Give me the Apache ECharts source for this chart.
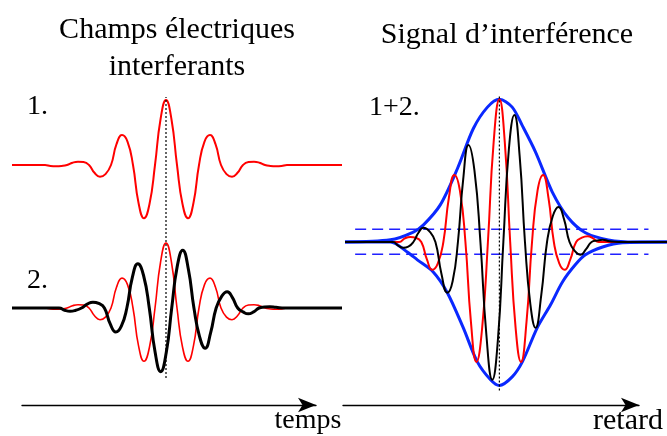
<!DOCTYPE html>
<html>
<head>
<meta charset="utf-8">
<script src="https://cdn.jsdelivr.net/npm/echarts@6/dist/echarts.min.js"></script>
<style>html,body{margin:0;padding:0;background:#fff}#c{width:667px;height:436px}</style>
</head>
<body>
<div id="c"></div>
<script>
// Field 1 (red), panels 1 and 2 : time (periods) / amplitude
const field1T = [-3.5, -2.75, -2.625, -2.5, -2.375, -2.25, -2.125, -2.0, -1.875, -1.75, -1.625, -1.5, -1.375, -1.25, -1.125, -1.0, -0.875, -0.75, -0.625, -0.5, -0.375, -0.25, -0.125, 0,
                 0.125, 0.25, 0.375, 0.5, 0.625, 0.75, 0.875, 1.0, 1.125, 1.25, 1.375, 1.5, 1.625, 1.75, 1.875, 2.0, 2.125, 2.25, 2.375, 2.5, 2.625, 2.75, 4.0];
const field1V = [0, 0, -0.015, -0.02, -0.015, 0, 0.035, 0.05, 0.045, 0, -0.12, -0.18, -0.14, 0, 0.32, 0.46, 0.36, 0, -0.58, -0.82, -0.60, 0, 0.70, 1.0,
                 0.70, 0, -0.60, -0.82, -0.58, 0, 0.36, 0.46, 0.32, 0, -0.14, -0.18, -0.12, 0, 0.045, 0.05, 0.035, 0, -0.015, -0.02, -0.015, 0, 0];
// Field 2 (black), panel 2
const field2T = [-3.5, -2.6, -2.43, -2.30, -2.18, -2.05, -1.92, -1.79, -1.66, -1.53, -1.40, -1.27, -1.14, -1.015, -0.89, -0.765, -0.64, -0.51, -0.38, -0.25, -0.12,
                 0.005, 0.13, 0.255, 0.38, 0.5075, 0.635, 0.7625, 0.89, 1.015, 1.14, 1.265, 1.39, 1.51, 1.63, 1.75, 1.87, 1.99, 2.115, 2.24, 2.36, 2.5, 2.7, 4.0];
const field2V = [0, 0, 0, -0.035, -0.05, -0.035, 0, 0.06, 0.09, 0.07, 0, -0.24, -0.37, -0.28, 0, 0.47, 0.68, 0.50, 0, -0.67, -0.98,
                 -0.69, 0, 0.64, 0.89, 0.60, 0, -0.44, -0.62, -0.38, 0, 0.18, 0.25, 0.16, 0, -0.06, -0.09, -0.06, 0, 0.015, 0.02, 0.01, 0, 0];
// Interference signal (panel 3), red trace
const sigRedT = [-3.5, -2.5, -2.27, -2.145, -2.02, -1.895, -1.77, -1.645, -1.52, -1.395, -1.27, -1.145, -1.02, -0.895, -0.77, -0.645, -0.52, -0.39, -0.26, -0.13, 0,
                 0.1225, 0.245, 0.3675, 0.49, 0.615, 0.74, 0.865, 0.99, 1.1125, 1.235, 1.3575, 1.48, 1.61, 1.74, 1.87, 2.0, 2.125, 2.25, 2.5, 3.8];
const sigRedV = [0, 0, 0, 0.05, 0.07, 0.06, 0, -0.24, -0.39, -0.30, 0, 0.62, 0.94, 0.72, 0, -1.12, -1.68, -1.20, 0, 1.40, 2.0,
                 1.40, 0, -1.20, -1.68, -1.12, 0, 0.72, 0.94, 0.62, 0, -0.30, -0.39, -0.24, 0, 0.06, 0.08, 0.05, 0, 0, 0];
// Interference signal (panel 3), black trace
const sigBlackT = [-3.5, -2.6, -2.41, -2.295, -2.18, -2.065, -1.95, -1.835, -1.72, -1.585, -1.45, -1.315, -1.18, -1.06, -0.94, -0.82, -0.70, -0.565, -0.43, -0.295, -0.16,
                   -0.035, 0.09, 0.215, 0.34, 0.46, 0.58, 0.70, 0.82, 0.95, 1.08, 1.21, 1.34, 1.465, 1.59, 1.715, 1.84, 1.965, 2.09, 2.215, 2.34, 2.5, 2.7, 3.8];
const sigBlackV = [0, 0, 0, -0.05, -0.08, -0.065, 0, 0.13, 0.20, 0.15, 0, -0.44, -0.71, -0.55, 0, 0.88, 1.36, 1.00, 0, -1.30, -1.93,
                   -1.38, 0, 1.30, 1.78, 1.20, 0, -0.86, -1.20, -0.74, 0, 0.36, 0.49, 0.32, 0, -0.13, -0.18, -0.10, 0, 0.02, 0.03, 0.01, 0, 0];
// Envelopes (blue)
const envUpT = [-3.5, -2.47, -1.95, -1.72, -1.34, -0.95, -0.59, -0.27, 0, 0.29, 0.52, 0.82, 1.20, 1.56, 1.95, 2.47, 3.08, 3.8];
const envUpV = [0, 0.03, 0.14, 0.24, 0.52, 1.03, 1.59, 1.89, 2.0, 1.89, 1.63, 1.26, 0.70, 0.34, 0.13, 0.03, 0, 0];
const envLoT = [-3.5, -2.47, -2.09, -1.86, -1.50, -1.18, -0.82, -0.50, -0.20, 0, 0.29, 0.52, 0.86, 1.16, 1.43, 1.72, 1.95, 2.34, 2.79, 3.8];
const envLoV = [0, 0, -0.14, -0.25, -0.42, -0.71, -1.20, -1.68, -1.93, -2.01, -1.89, -1.68, -1.20, -0.88, -0.56, -0.32, -0.18, -0.07, -0.01, 0];
// Dashed levels
const dashLevels = [0.18, -0.17];
const dashSpan = [-3.27, 3.38];
// Reference (zero delay) line extents
const refSpanRight = [-2.08, 2.06];
// Texts
const titleLeft = ['Champs électriques', 'interferants'];
const titleRight = 'Signal d’interférence';
const panelLabels = ['1.', '2.', '1+2.'];
const axisNames = ['temps', 'retard'];

const zip = (t, v) => t.map((x, i) => [x, v[i]]);
const FONT = 'Liberation Serif';

const grids = [
  {left: 12, width: 330, top: 87, height: 156},   // 0 panel 1
  {left: 12, width: 330, top: 230, height: 156},  // 1 panel 2
  {left: 12, width: 330, top: 97, height: 281},   // 2 left overlay for dotted line
  {left: 345, width: 322, top: 85, height: 314},  // 3 panel 3
  {left: 22, width: 294, top: 395, height: 10},   // 4 arrow temps
  {left: 343, width: 296, top: 395, height: 10}   // 5 arrow retard
];
const xAxes = [0,1,2,3].map(i => ({type: 'value', gridIndex: i, min: -3.5, max: i === 3 ? 3.8 : 4.0, show: false}));
const yAxes = [
  {type: 'value', gridIndex: 0, min: -1.2, max: 1.2, show: false},
  {type: 'value', gridIndex: 1, min: -1.2, max: 1.2, show: false},
  {type: 'value', gridIndex: 2, min: 0, max: 1, show: false},
  {type: 'value', gridIndex: 3, min: -2.2, max: 2.2, show: false}
];
[4,5].forEach(g => {
  xAxes.push({type: 'value', gridIndex: g, min: 0, max: 1, show: true,
    axisLine: {show: true, symbol: ['none', 'arrow'], symbolSize: [11, 18], lineStyle: {color: '#000', width: 1.4}},
    axisTick: {show: false}, axisLabel: {show: false}, splitLine: {show: false}});
  yAxes.push({type: 'value', gridIndex: g, show: false});
});

const line = (xi, data, color, width, extra) => Object.assign({
  type: 'line', xAxisIndex: xi, yAxisIndex: xi, data: data, showSymbol: false, symbol: 'none',
  smooth: true, lineStyle: {color: color, width: width, join: 'round'}, silent: true, clip: false
}, extra || {});
const dotted = {smooth: false, lineStyle: {color: '#000', width: 1.2, type: [2, 2]}};

const series = [
  line(0, zip(field1T, field1V), '#ff0000', 2),
  line(1, zip(field1T, field1V), '#ff0000', 1.6),
  line(1, zip(field2T, field2V), '#000000', 3),
  line(2, [[0, 0], [0, 1]], '#000', 1, dotted),
  ...dashLevels.map(l => line(3, dashSpan.map(x => [x, l]), '#2020ff', 1.5, {smooth: false, lineStyle: {color: '#2020ff', width: 1.5, type: [11, 6]}})),
  line(3, zip(envUpT, envUpV), '#0a28ff', 3, {smooth: 0.3}),
  line(3, zip(envLoT, envLoV), '#0a28ff', 3, {smooth: 0.3}),
  line(3, zip(sigRedT, sigRedV), '#ff0000', 2),
  line(3, zip(sigBlackT, sigBlackV), '#000000', 2),
  line(3, refSpanRight.map(y => [0, y]), '#000', 1, dotted)
];

const txt = (s, x, y, size, align) => ({type: 'text', x: x, y: y,
  style: {text: s, font: size + 'px "' + FONT + '"', fill: '#000', textAlign: align || 'center', textVerticalAlign: 'middle'}});

const chart = echarts.init(document.getElementById('c'), null, {renderer: 'canvas'});
chart.setOption({
  animation: false,
  grid: grids, xAxis: xAxes, yAxis: yAxes, series: series,
  graphic: [
    txt(titleLeft[0], 177, 30, 30),
    txt(titleLeft[1], 177, 67, 30),
    txt(titleRight, 507, 35, 30),
    txt(panelLabels[0], 27, 107, 28, 'left'),
    txt(panelLabels[1], 27, 281, 28, 'left'),
    txt(panelLabels[2], 369, 108, 28, 'left'),
    txt(axisNames[0], 308, 421, 28),
    txt(axisNames[1], 628, 421, 30)
  ]
});
</script>
</body>
</html>
